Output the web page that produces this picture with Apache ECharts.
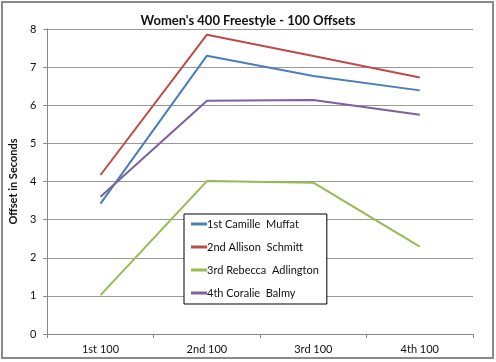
<!DOCTYPE html>
<html>
<head>
<meta charset="utf-8">
<script src="https://cdn.jsdelivr.net/npm/echarts@6/dist/echarts.min.js"></script>
<style>html,body{margin:0;padding:0;background:#fff}#c{width:496px;height:362px}</style>
</head>
<body>
<div id="c"></div>
<script>
const categories = ['1st 100', '2nd 100', '3rd 100', '4th 100'];
const muffat = [3.42, 7.30, 6.77, 6.39];
const schmitt = [4.17, 7.85, 7.29, 6.73];
const adlington = [1.02, 4.01, 3.97, 2.29];
const balmy = [3.60, 6.12, 6.14, 5.75];
const seriesNames = ['1st Camille  Muffat', '2nd Allison  Schmitt', '3rd Rebecca  Adlington', '4th Coralie  Balmy'];
const colors = ['#4A7EBB', '#BE4B48', '#98B954', '#7D60A0'];
const yTicks = {min: 0, max: 8, interval: 1};

const font = 'Lato, "Open Sans", sans-serif';
const chart = echarts.init(document.getElementById('c'), null, {renderer: 'canvas'});
const data = [muffat, schmitt, adlington, balmy];
chart.setOption({
  animation: false,
  backgroundColor: '#ffffff',
  color: colors,
  title: {
    text: "Women's 400 Freestyle - 100 Offsets",
    left: 'center', top: 9,
    textStyle: {fontFamily: font, fontSize: 13, fontWeight: 'bold', color: '#111'}
  },
  graphic: [{
    type: 'rect', shape: {x: 2, y: 2, width: 491, height: 356},
    style: {fill: 'none', stroke: '#8a8a8a', lineWidth: 2}, silent: true, z: 100
  }],
  grid: {left: 41, right: 23, top: 29, bottom: 28, containLabel: false},
  legend: {
    orient: 'vertical', left: 184, top: 214,
    backgroundColor: '#fff', borderColor: '#000', borderWidth: 1,
    padding: [3, 8, 4, 7],
    itemWidth: 16, itemHeight: 3, itemGap: 9,
    icon: 'rect',
    textStyle: {fontFamily: font, fontSize: 11, color: '#111', lineHeight: 14, padding: [0, 0, 0, -5]},
    data: seriesNames, z: 10
  },
  xAxis: {
    type: 'category', data: categories, boundaryGap: true,
    axisLine: {lineStyle: {color: '#888', width: 1}},
    axisTick: {show: true, length: 4, lineStyle: {color: '#888'}},
    axisLabel: {fontFamily: font, fontSize: 11, color: '#111', margin: 10}
  },
  yAxis: {
    type: 'value', min: yTicks.min, max: yTicks.max, interval: yTicks.interval,
    name: 'Offset in Seconds', nameLocation: 'middle', nameGap: 25, nameRotate: 90,
    nameTextStyle: {fontFamily: font, fontSize: 11, fontWeight: 'bold', color: '#111'},
    axisLine: {show: true, lineStyle: {color: '#888', width: 1}},
    axisTick: {show: true, length: 4, lineStyle: {color: '#888'}},
    axisLabel: {fontFamily: font, fontSize: 11, color: '#111', margin: 11},
    splitLine: {lineStyle: {color: '#999', width: 1}}
  },
  series: data.map((d, i) => ({
    name: seriesNames[i], type: 'line', data: d,
    symbol: 'none', lineStyle: {width: 2, color: colors[i]},
    itemStyle: {color: colors[i]}
  }))
});
</script>
</body>
</html>
